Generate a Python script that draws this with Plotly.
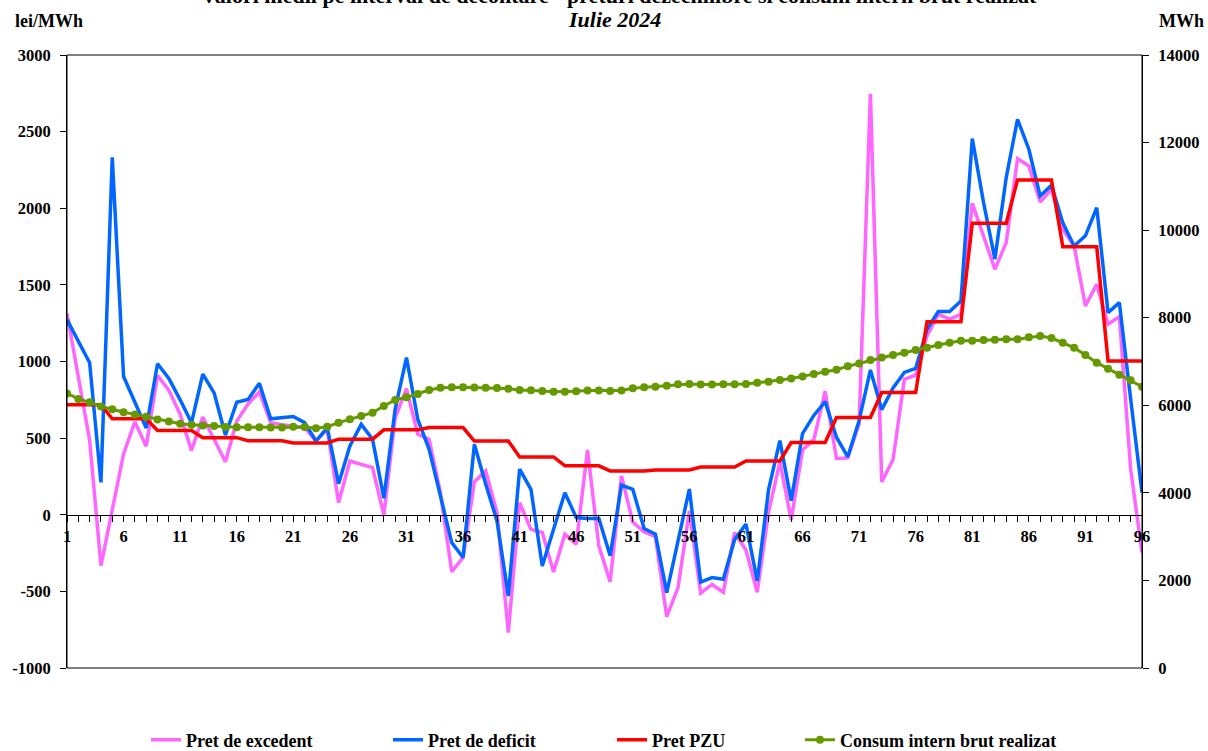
import plotly.graph_objects as go

intervals = list(range(1, 97))

pret_excedent = [1313, 914, 487, -332, 30, 397, 606, 447, 909, 813, 655, 420, 638, 498, 346, 611,
                 723, 801, 600, 588, 579, 568, 481, 557, 79, 351, 329, 308, -3, 630, 823, 525,
                 493, 145, -372, -279, 214, 286, 14, -769, 79, -95, -116, -373, -127, -192, 423, -203,
                 -438, 253, -47, -112, -143, -665, -475, 25, -511, -455, -506, -117, -230, -506, 18, 344,
                 -34, 423, 490, 806, 367, 371, 592, 2747, 214, 360, 884, 911, 1167, 1308, 1276, 1308,
                 2032, 1820, 1602, 1776, 2324, 2276, 2041, 2124, 1863, 1754, 1363, 1504, 1243, 1293, 297, -247]

pret_deficit = [1273, 1138, 992, 211, 2332, 902, 734, 566, 985, 890, 750, 600, 918, 795, 520, 734,
                752, 858, 626, 633, 641, 601, 481, 568, 203, 449, 590, 493, 108, 690, 1025, 623,
                427, 123, -182, -279, 460, 200, -40, -530, 297, 166, -334, -95, 144, -18, -25, -25,
                -268, 193, 166, -90, -127, -508, -160, 168, -439, -410, -421, -162, -61, -432, 164, 484,
                92, 529, 648, 738, 506, 378, 614, 945, 686, 828, 929, 955, 1210, 1326, 1326, 1395,
                2455, 2037, 1668, 2200, 2580, 2385, 2080, 2150, 1906, 1754, 1820, 2004, 1319, 1384, 754, 145]

pret_pzu = [718, 718, 718, 718, 626, 626, 626, 626, 550, 550, 550, 550, 503, 503, 503, 503,
            483, 483, 483, 483, 468, 468, 468, 468, 493, 493, 493, 493, 554, 554, 554, 554,
            569, 569, 569, 569, 481, 481, 481, 481, 377, 377, 377, 377, 319, 319, 319, 319,
            286, 286, 286, 286, 292, 292, 292, 292, 311, 311, 311, 311, 351, 351, 351, 351,
            471, 471, 471, 471, 634, 634, 634, 634, 797, 797, 797, 797, 1259, 1259, 1259, 1259,
            1902, 1902, 1902, 1902, 2185, 2185, 2185, 2185, 1748, 1748, 1748, 1748, 1004, 1004, 1004, 1004]

consum = [6272, 6146, 6068, 5973, 5911, 5840, 5792, 5737, 5676, 5628, 5580, 5557, 5541, 5525, 5502, 5500,
          5500, 5500, 5495, 5495, 5510, 5505, 5474, 5510, 5603, 5680, 5756, 5831, 5984, 6121, 6182, 6258,
          6349, 6402, 6410, 6410, 6405, 6402, 6395, 6380, 6349, 6345, 6326, 6311, 6311, 6320, 6335, 6335,
          6326, 6340, 6388, 6411, 6425, 6448, 6479, 6487, 6475, 6475, 6480, 6480, 6485, 6513, 6539, 6578,
          6610, 6655, 6712, 6767, 6813, 6893, 6957, 7035, 7089, 7150, 7200, 7262, 7316, 7376, 7430, 7475,
          7475, 7490, 7498, 7506, 7506, 7551, 7582, 7536, 7430, 7316, 7148, 6973, 6837, 6700, 6570, 6426]

left_tick_vals = [-1000, -500, 0, 500, 1000, 1500, 2000, 2500, 3000]
left_tick_text = ["-1000", "-500", "0", "500", "1000", "1500", "2000", "2500", "3000"]
right_tick_vals = [0, 2000, 4000, 6000, 8000, 10000, 12000, 14000]

series_names = ["Pret de excedent", "Pret de deficit", "Pret PZU", "Consum intern brut realizat"]
title_line1 = "Valori medii pe interval de decontare - preturi dezechilibre si consum intern brut realizat"
title_line2 = "Iulie 2024"

FONT = "Liberation Serif"
W, H = 1208, 751
ML, MR, MT, MB = 67, 66, 55, 83
PH = H - MT - MB
PW = W - ML - MR


def py(pix):
    return (H - MB - pix) / PH


def px(pix):
    return (pix - ML) / PW


fig = go.Figure()
fig.add_trace(go.Scatter(x=intervals, y=pret_excedent, name=series_names[0], mode="lines",
                         line=dict(color="#ff66ff", width=3.5), legend="legend"))
fig.add_trace(go.Scatter(x=intervals, y=pret_deficit, name=series_names[1], mode="lines",
                         line=dict(color="#0066ff", width=3.5), legend="legend2"))
fig.add_trace(go.Scatter(x=intervals, y=pret_pzu, name=series_names[2], mode="lines",
                         line=dict(color="#ff0000", width=3.5), legend="legend3"))
fig.add_trace(go.Scatter(x=intervals, y=consum, name=series_names[3], mode="lines+markers",
                         line=dict(color="#669900", width=3), marker=dict(size=8, color="#669900"),
                         yaxis="y2", legend="legend4"))

tickfont = dict(family=FONT, size=16.5, color="black", weight="bold")
legfont = dict(family=FONT, size=18, color="black", weight="bold")

leg_common = dict(orientation="h", yanchor="middle", xanchor="left", font=legfont,
                  bgcolor="rgba(0,0,0,0)", borderwidth=0)

fig.update_layout(
    width=W, height=H,
    margin=dict(l=ML, r=MR, t=MT, b=MB, autoexpand=False),
    plot_bgcolor="white", paper_bgcolor="white",
    showlegend=True,
    xaxis=dict(range=[1, 96], tickmode="linear", tick0=1, dtick=5, ticks="outside", ticklen=6,
               tickcolor="black", showgrid=False, zeroline=False, showline=True, linecolor="black",
               linewidth=1, anchor="free", position=0.25, tickfont=tickfont,
               minor=dict(dtick=1, tick0=1, ticks="outside", ticklen=6, tickcolor="black", showgrid=False)),
    yaxis=dict(range=[-1000, 3000], tickmode="array", tickvals=left_tick_vals, ticktext=left_tick_text,
               ticks="outside", ticklen=6, tickcolor="black", ticklabelstandoff=6,
               showgrid=False, zeroline=False, showline=True, linecolor="black", linewidth=1,
               tickfont=tickfont),
    yaxis2=dict(range=[0, 14000], tickmode="array", tickvals=right_tick_vals, tickformat="d",
                overlaying="y", side="right", ticks="outside", ticklabelstandoff=6,
                ticklen=6, tickcolor="black", showgrid=False, zeroline=False, showline=True,
                linecolor="black", linewidth=1, tickfont=tickfont),
    legend=dict(x=px(146), y=py(740), **leg_common),
    legend2=dict(x=px(388), y=py(740), **leg_common),
    legend3=dict(x=px(612), y=py(740), **leg_common),
    legend4=dict(x=px(800), y=py(740), **leg_common),
)

fig.add_shape(type="rect", xref="paper", yref="paper", x0=0, y0=0, x1=1, y1=1,
              line=dict(color="black", width=1), layer="above")

fig.add_annotation(text=title_line1, xref="paper", yref="paper", x=px(619), y=py(-5),
                   showarrow=False, xanchor="center", yanchor="middle",
                   font=dict(family=FONT, size=22, color="black", weight="bold"))
fig.add_annotation(text="<i>" + title_line2 + "</i>", xref="paper", yref="paper", x=px(614), y=py(20),
                   showarrow=False, xanchor="center", yanchor="middle",
                   font=dict(family=FONT, size=22, color="black", weight="bold"))
fig.add_annotation(text="lei/MWh", xref="paper", yref="paper", x=px(49), y=py(21),
                   showarrow=False, xanchor="center", yanchor="middle",
                   font=dict(family=FONT, size=18, color="black", weight="bold"))
fig.add_annotation(text="MWh", xref="paper", yref="paper", x=px(1181), y=py(21),
                   showarrow=False, xanchor="center", yanchor="middle",
                   font=dict(family=FONT, size=18, color="black", weight="bold"))

fig.write_html("out.html", config={"displayModeBar": False},
               post_script="document.body.style.margin='0px';")
